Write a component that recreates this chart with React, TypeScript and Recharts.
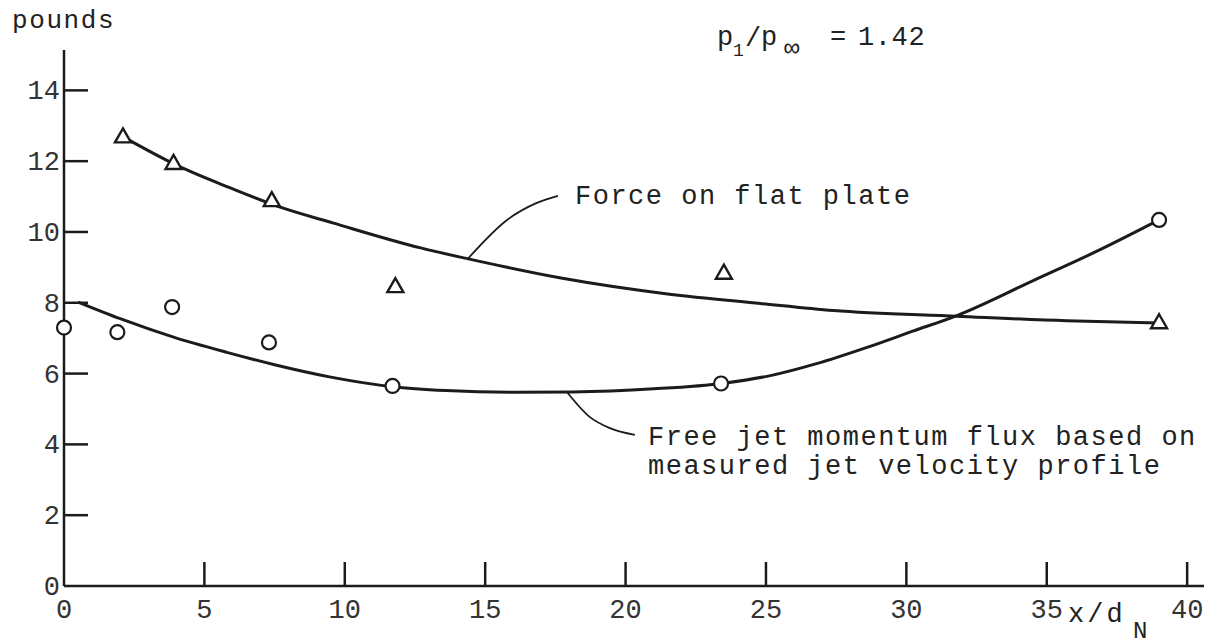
import { ComposedChart, Line, Scatter, XAxis, YAxis } from 'recharts';

// axis ticks
const xTicks = [0, 5, 10, 15, 20, 25, 30, 35, 40];
const yTicks = [0, 2, 4, 6, 8, 10, 12, 14];

// measured points, force on flat plate (triangles)
const plateX = [2.1, 3.9, 7.4, 11.8, 23.5, 39.0];
const plateY = [12.7, 11.95, 10.9, 8.47, 8.85, 7.45];

// measured points, free jet momentum flux (circles)
const jetX = [0, 1.9, 3.85, 7.3, 11.7, 23.4, 39.0];
const jetY = [7.3, 7.17, 7.88, 6.88, 5.65, 5.72, 10.34];

// faired curves drawn through the data
const plateFitX = [2.3, 4.1, 5.9, 7.7, 9.6, 12.7, 14.4, 17.7, 21.5, 24.8, 27.4, 31.8, 35.7, 39.0];
const plateFitY = [12.6, 11.85, 11.25, 10.7, 10.25, 9.55, 9.24, 8.7, 8.25, 7.98, 7.78, 7.62, 7.49, 7.43];
const jetFitX = [0.5, 2.0, 3.9, 5.8, 7.5, 9.5, 11.7, 13.6, 16, 18.1, 21, 23.5, 25.2, 26.8, 28.6, 30.2, 31.8, 34.5, 36.9, 39.0];
const jetFitY = [8.02, 7.55, 7.03, 6.6, 6.25, 5.9, 5.63, 5.52, 5.47, 5.48, 5.57, 5.73, 5.95, 6.28, 6.74, 7.19, 7.64, 8.62, 9.5, 10.34];

// leader lines from the labels to the curves
const plateLeaderX = [14.39, 15.78, 16.84, 17.59];
const plateLeaderY = [9.25, 10.34, 10.82, 11.02];
const jetLeaderX = [17.91, 18.73, 19.44, 20.33];
const jetLeaderY = [5.48, 4.77, 4.46, 4.27];

const ink = '#1b1b1b';
const typeFont = "'Liberation Mono', 'Courier New', monospace";

const toPoints = (xs: number[], ys: number[]) => xs.map((x, i) => ({ x, y: ys[i] }));

const XTick = ({ x, y, payload }: any) => (
  <g>
    {payload.value > 0 && <line x1={x} y1={y} x2={x} y2={y - 24} stroke={ink} strokeWidth={2.5} />}
    <text x={x} y={y + 32} textAnchor="middle" fontFamily={typeFont} fontSize={27} fill="#333">
      {payload.value}
    </text>
  </g>
);

const YTick = ({ x, y, payload }: any) => (
  <g>
    {payload.value > 0 && <line x1={x} y1={y} x2={x + 24} y2={y} stroke={ink} strokeWidth={2.5} />}
    <text x={x - 4} y={y + 9} textAnchor="end" fontFamily={typeFont} fontSize={27} fill="#333">
      {payload.value}
    </text>
  </g>
);

const Ring = ({ cx, cy }: any) => (
  <circle cx={cx} cy={cy} r={7} fill="#fff" stroke={ink} strokeWidth={2.2} />
);

const Tri = ({ cx, cy }: any) => (
  <path
    d={`M${cx},${cy - 8} L${cx + 8},${cy + 6} L${cx - 8},${cy + 6} Z`}
    fill="#fff"
    stroke={ink}
    strokeWidth={2.4}
    strokeLinejoin="miter"
  />
);

const App = () => {
  const textProps = { fontFamily: typeFont, fill: '#222' };

  return (
    <div style={{ position: 'absolute', left: 0, top: 0, width: 1215, height: 644, background: '#fff' }}>
      <ComposedChart
        width={1215}
        height={644}
        margin={{ top: 50, right: 11, bottom: 0, left: 0 }}
      >
        <XAxis
          type="number"
          dataKey="x"
          domain={[0, 40.6]}
          ticks={xTicks}
          interval={0}
          height={58}
          tickSize={0}
          tickMargin={0}
          tickLine={false}
          axisLine={{ stroke: ink, strokeWidth: 2.5 }}
          tick={<XTick />}
        />
        <YAxis
          type="number"
          dataKey="y"
          domain={[0, 15.14]}
          ticks={yTicks}
          interval={0}
          width={64}
          tickSize={0}
          tickMargin={0}
          tickLine={false}
          axisLine={{ stroke: ink, strokeWidth: 2.5 }}
          tick={<YTick />}
        />
        <Line data={toPoints(plateFitX, plateFitY)} dataKey="y" type="monotone" stroke={ink} strokeWidth={3} dot={false} isAnimationActive={false} />
        <Line data={toPoints(jetFitX, jetFitY)} dataKey="y" type="monotone" stroke={ink} strokeWidth={3} dot={false} isAnimationActive={false} />
        <Line data={toPoints(plateLeaderX, plateLeaderY)} dataKey="y" type="monotone" stroke={ink} strokeWidth={1.8} dot={false} isAnimationActive={false} />
        <Line data={toPoints(jetLeaderX, jetLeaderY)} dataKey="y" type="monotone" stroke={ink} strokeWidth={1.8} dot={false} isAnimationActive={false} />
        <Scatter data={toPoints(plateX, plateY)} shape={<Tri />} isAnimationActive={false} />
        <Scatter data={toPoints(jetX, jetY)} shape={<Ring />} isAnimationActive={false} />
      </ComposedChart>
      <svg
        width={1215}
        height={644}
        style={{ position: 'absolute', left: 0, top: 0, pointerEvents: 'none' }}
      >
        <text x={12} y={28} fontSize={26} letterSpacing={1.6} {...textProps}>pounds</text>
        <text x={717} y={45} fontSize={27} {...textProps}>p</text>
        <text x={733} y={56} fontSize={18} {...textProps}>1</text>
        <text x={745} y={46} fontSize={27} {...textProps}>/</text>
        <text x={761} y={45} fontSize={27} {...textProps}>p</text>
        <text x={784} y={56} fontSize={26} {...textProps}>∞</text>
        <text x={830} y={45} fontSize={27} {...textProps}>=</text>
        <text x={858} y={45} fontSize={27} letterSpacing={0.6} {...textProps}>1.42</text>
        <text x={575} y={204} fontSize={27} letterSpacing={1.5} {...textProps}>Force on flat plate</text>
        <text x={648} y={445} fontSize={27} letterSpacing={1.5} {...textProps}>Free jet momentum flux based on</text>
        <text x={648} y={474} fontSize={27} letterSpacing={1.5} {...textProps}>measured jet velocity profile</text>
        <text x={1068} y={622} fontSize={27} letterSpacing={3} {...textProps}>x/d</text>
        <text x={1133} y={638} fontSize={24} {...textProps}>N</text>
      </svg>
    </div>
  );
};

export default App;
